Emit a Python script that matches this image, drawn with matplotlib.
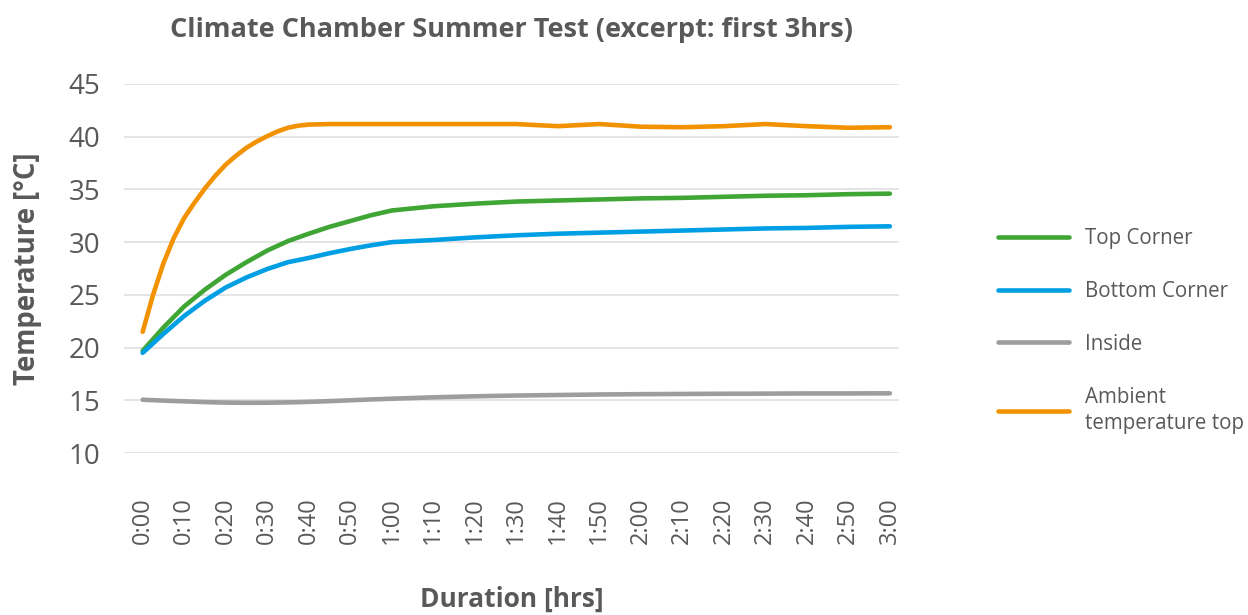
import numpy as np
import matplotlib
matplotlib.use("Agg")
import matplotlib.pyplot as plt

# minutes since start
minutes = [0, 5, 10, 15, 20, 25, 30, 35, 40, 45, 50, 55, 60,
           70, 80, 90, 100, 110, 120, 130, 140, 150, 160, 170, 180]

top_corner = [19.7, 21.9, 23.9, 25.5, 26.9, 28.1, 29.2, 30.1, 30.8, 31.45, 32.0, 32.55, 33.0,
              33.4, 33.65, 33.85, 33.95, 34.05, 34.15, 34.2, 34.3, 34.4, 34.45, 34.55, 34.6]
bottom_corner = [19.5, 21.3, 23.0, 24.45, 25.7, 26.65, 27.45, 28.1, 28.5, 28.95, 29.35, 29.7, 30.0,
                 30.2, 30.45, 30.65, 30.8, 30.9, 31.0, 31.1, 31.2, 31.3, 31.35, 31.45, 31.5]
inside = [15.05, 14.97, 14.9, 14.83, 14.78, 14.76, 14.77, 14.8, 14.85, 14.92, 15.0, 15.08, 15.15,
          15.28, 15.38, 15.45, 15.5, 15.55, 15.58, 15.6, 15.62, 15.63, 15.65, 15.65, 15.66]

# ambient sensor read more densely during the fast ramp
ambient_minutes = [0, 2.5, 5, 7.5, 10, 12.5, 15, 17.5, 20, 22.5, 25, 27.5, 30, 32.5, 35, 37.5, 40,
                   45, 50, 55, 60, 70, 80, 90, 100, 110, 120, 130, 140, 150, 160, 170, 180]
ambient = [21.5, 25.0, 28.0, 30.4, 32.3, 33.75, 35.1, 36.3, 37.35, 38.2, 38.95, 39.55, 40.05,
           40.5, 40.85, 41.05, 41.15, 41.2, 41.2, 41.2, 41.2,
           41.2, 41.2, 41.2, 41.0, 41.2, 40.95, 40.9, 41.0, 41.2, 41.0, 40.85, 40.9]

tick_minutes = list(range(0, 181, 10))
tick_labels = ["%d:%02d" % (m // 60, m % 60) for m in tick_minutes]

series = [
    ("Top Corner", minutes, top_corner, "#3FA535"),
    ("Bottom Corner", minutes, bottom_corner, "#009FE3"),
    ("Inside", minutes, inside, "#9D9D9C"),
    ("Ambient\ntemperature top", ambient_minutes, ambient, "#F39200"),
]

plt.rcParams['font.family'] = ['Open Sans', 'DejaVu Sans']
txt = "#595959"

fig = plt.figure(figsize=(12.48, 6.15), dpi=100)
ax = fig.add_axes([124 / 1248, 1 - 453 / 615, (899 - 124) / 1248, (453 - 84) / 615])

for name, xs, vals, col in series:
    ax.plot(xs, vals, color=col, lw=3.3, label=name, solid_capstyle="round")

ax.set_xlim(-4.5, 182.2)
ax.set_ylim(10, 45)
ax.set_yticks(range(10, 46, 5))
ax.set_xticks(tick_minutes)
ax.set_xticklabels(tick_labels, rotation=90, va="top", ha="center")
ax.grid(axis="y", color="#E3E3E3", lw=1.3)
ax.set_axisbelow(True)
for s in ax.spines.values():
    s.set_visible(False)
ax.tick_params(axis="both", length=0, colors=txt)
ax.tick_params(axis="y", labelsize=20, pad=17)
ax.tick_params(axis="x", labelsize=17, pad=32)

ax.set_ylabel("Temperature [°C]", fontsize=19.8, fontweight="bold", color=txt, labelpad=19)
ax.set_xlabel("Duration [hrs]", fontsize=19, fontweight="bold", color=txt, labelpad=30)
fig.text(0.41, 1 - 30 / 615, "Climate Chamber Summer Test (excerpt: first 3hrs)",
         ha="center", va="center", fontsize=19.5, fontweight="bold", color=txt)

leg = ax.legend(loc="upper left", bbox_to_anchor=(1.104, 0.66), frameon=False,
                fontsize=14.8, handlelength=3.45, handletextpad=0.8, labelspacing=1.55,
                labelcolor=txt)
for t in leg.get_texts():
    t.set_linespacing(1.35)

fig.savefig("out.png", dpi=100)
